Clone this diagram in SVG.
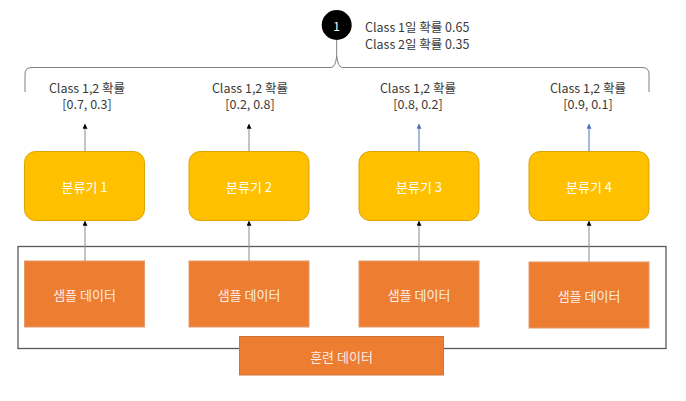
<svg xmlns="http://www.w3.org/2000/svg" width="686" height="401" viewBox="0 0 686 401">
<defs>
<style>
text{font-family:"Noto Sans CJK KR","Noto Sans",sans-serif;}
.lbl{font-size:12.5px;fill:#3a3a3a;text-anchor:middle;dominant-baseline:central;}
.top{font-size:12.5px;fill:#3a3a3a;dominant-baseline:central;}
.clf rect{fill:#FFC000;stroke:#dca400;stroke-width:1;}
.clf text{font-size:13px;fill:#ffffff;text-anchor:middle;dominant-baseline:central;}
.smp rect{fill:#ED7D31;stroke:#e39a6a;stroke-width:1;}
.smp text{font-size:13px;fill:#fbeee6;text-anchor:middle;dominant-baseline:central;}
.conn{fill:none;stroke-width:1;}
.g{stroke:#8a8a8a;marker-end:url(#ab);}
.b{stroke:#4472C4;marker-end:url(#abl);}
</style>
<marker id="ab" viewBox="0 0 6 6" refX="5" refY="3" markerWidth="5" markerHeight="5" orient="auto" markerUnits="userSpaceOnUse">
<path d="M0,0 L6,3 L0,6 z" fill="#000"/>
</marker>
<marker id="abl" viewBox="0 0 6 6" refX="5" refY="3" markerWidth="5" markerHeight="5" orient="auto" markerUnits="userSpaceOnUse">
<path d="M0,0 L6,3 L0,6 z" fill="#4472C4"/>
</marker>
</defs>
<rect width="686" height="401" fill="#ffffff"/>

<g id="outer">
<rect x="18" y="246.5" width="648" height="102" fill="none" stroke="#595959" stroke-width="1.3"/>
</g>

<g id="connectors">
<path class="conn" d="M336.7,40 V56" stroke="#7f7f7f"/>
<path class="conn" stroke="#7f7f7f" d="M25,92 V74 Q25,67.5 32,67.5 H331 Q335.5,67.5 336.7,56 Q338,67.5 342.5,67.5 H642 Q649,67.5 649,74 V92"/>
<line class="conn g" x1="85" y1="152" x2="85" y2="124.5"/>
<line class="conn g" x1="249" y1="152" x2="249" y2="124.5"/>
<line class="conn b" x1="419" y1="152" x2="419" y2="124.5"/>
<line class="conn b" x1="589" y1="152" x2="589" y2="124.5"/>
<line class="conn g" x1="85" y1="261" x2="85" y2="221.5"/>
<line class="conn g" x1="249" y1="261" x2="249" y2="221.5"/>
<line class="conn g" x1="419" y1="261" x2="419" y2="221.5"/>
<line class="conn g" x1="589" y1="262" x2="589" y2="221.5"/>
</g>

<g id="result">
<circle cx="336.7" cy="25" r="15" fill="#000"/>
<text x="336.7" y="25" font-size="12" fill="#fff" text-anchor="middle" dominant-baseline="central">1</text>
<text class="top" x="365" y="26">Class 1일 확률 0.65</text>
<text class="top" x="365" y="43">Class 2일 확률 0.35</text>
</g>

<g id="prob1">
<text class="lbl" x="87" y="87">Class 1,2 확률</text>
<text class="lbl" x="87" y="103">[0.7, 0.3]</text>
</g>
<g id="prob2">
<text class="lbl" x="250" y="87">Class 1,2 확률</text>
<text class="lbl" x="250" y="103">[0.2, 0.8]</text>
</g>
<g id="prob3">
<text class="lbl" x="418" y="87">Class 1,2 확률</text>
<text class="lbl" x="418" y="103">[0.8, 0.2]</text>
</g>
<g id="prob4">
<text class="lbl" x="588" y="87">Class 1,2 확률</text>
<text class="lbl" x="588" y="103">[0.9, 0.1]</text>
</g>

<g id="clf1" class="clf"><rect x="24.5" y="151.5" width="120" height="69" rx="11"/><text x="84.5" y="186.5">분류기 1</text></g>
<g id="clf2" class="clf"><rect x="189" y="151.5" width="120" height="69" rx="11"/><text x="249" y="186.5">분류기 2</text></g>
<g id="clf3" class="clf"><rect x="359" y="151.5" width="120" height="69" rx="11"/><text x="419" y="186.5">분류기 3</text></g>
<g id="clf4" class="clf"><rect x="529" y="151.5" width="120" height="69" rx="11"/><text x="589" y="186.5">분류기 4</text></g>

<g id="smp1" class="smp"><rect x="24.5" y="261" width="120" height="66"/><text x="84.5" y="294">샘플 데이터</text></g>
<g id="smp2" class="smp"><rect x="189" y="261" width="120" height="66"/><text x="249" y="294">샘플 데이터</text></g>
<g id="smp3" class="smp"><rect x="359" y="261" width="120" height="66"/><text x="419" y="294">샘플 데이터</text></g>
<g id="smp4" class="smp"><rect x="529" y="262" width="120" height="66"/><text x="589" y="295">샘플 데이터</text></g>

<g id="train" class="smp"><rect x="239.5" y="336.5" width="204" height="38.5" style="stroke:#d0733a"/><text x="341.5" y="356">훈련 데이터</text></g>
</svg>
